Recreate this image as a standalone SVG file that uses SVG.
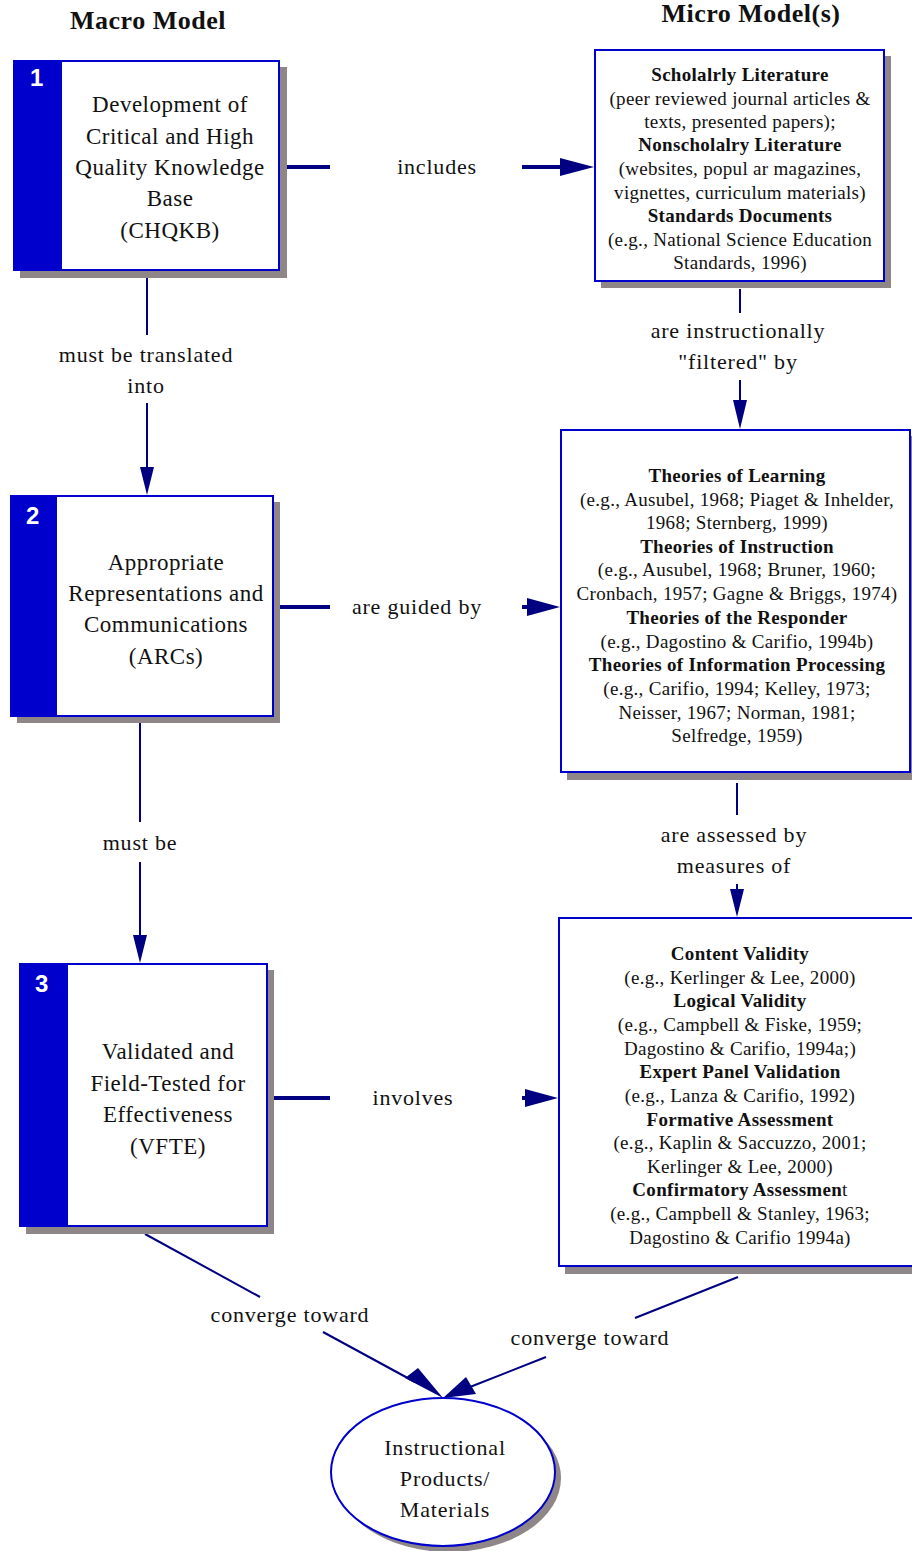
<svg xmlns="http://www.w3.org/2000/svg" width="912" height="1551" viewBox="0 0 912 1551">
<style>
.bg{fill:#ffffff}
.shadow{fill:#8f8787}
.box{fill:#ffffff;stroke:#0000cc;stroke-width:2}
.stripe{fill:#0000cc}
.num{font-family:"Liberation Sans",Arial,sans-serif;font-weight:bold;font-size:24px;fill:#ffffff}
.t{font-family:"Liberation Serif","Times New Roman",serif;fill:#111111;text-anchor:middle}
.big{font-size:23px;letter-spacing:0.5px}
.lbl{font-size:22px;letter-spacing:0.8px}
.sm{font-size:19px;letter-spacing:0.3px}
.b{font-weight:bold}
.title{font-family:"Liberation Serif","Times New Roman",serif;font-weight:bold;font-size:26px;letter-spacing:0.5px;fill:#111111;text-anchor:middle}
.thick{stroke:#000080;stroke-width:4;fill:none}
.thin{stroke:#000080;stroke-width:2;fill:none}
.head{fill:#000080}
</style>
<rect class="bg" x="0" y="0" width="912" height="1551"/>
<text class="title" x="148" y="29">Macro Model</text>
<text class="title" x="751" y="22">Micro Model(s)</text>

<g id="connectors">
  <!-- 1 -> A includes -->
  <line class="thick" x1="287" y1="167" x2="330" y2="167"/>
  <line class="thick" x1="522" y1="167" x2="562" y2="167"/>
  <polygon class="head" points="560,158 594,167 560,176"/>
  <text class="t lbl" x="437" y="174">includes</text>
  <!-- 2 -> B are guided by -->
  <line class="thick" x1="280" y1="607" x2="330" y2="607"/>
  <line class="thick" x1="522" y1="607" x2="530" y2="607"/>
  <polygon class="head" points="527,598 560,607 527,616"/>
  <text class="t lbl" x="417" y="614">are guided by</text>
  <!-- 3 -> C involves -->
  <line class="thick" x1="274" y1="1098" x2="330" y2="1098"/>
  <line class="thick" x1="522" y1="1098" x2="528" y2="1098"/>
  <polygon class="head" points="525,1089 558,1098 525,1107"/>
  <text class="t lbl" x="413" y="1105">involves</text>
  <!-- 1 -> 2 -->
  <line class="thin" x1="147" y1="278" x2="147" y2="335"/>
  <line class="thin" x1="147" y1="403" x2="147" y2="470"/>
  <polygon class="head" points="140,467 147,495 154,467"/>
  <text class="t lbl" x="146" y="362">must be translated</text>
  <text class="t lbl" x="146" y="393">into</text>
  <!-- 2 -> 3 -->
  <line class="thin" x1="140" y1="723" x2="140" y2="822"/>
  <line class="thin" x1="140" y1="862" x2="140" y2="938"/>
  <polygon class="head" points="133,935 140,963 147,935"/>
  <text class="t lbl" x="140" y="850">must be</text>
  <!-- A -> B -->
  <line class="thin" x1="740" y1="289" x2="740" y2="313"/>
  <line class="thin" x1="740" y1="380" x2="740" y2="403"/>
  <polygon class="head" points="733,400 740,429 747,400"/>
  <text class="t lbl" x="738" y="338">are instructionally</text>
  <text class="t lbl" x="738" y="369">"filtered" by</text>
  <!-- B -> C -->
  <line class="thin" x1="737" y1="783" x2="737" y2="815"/>
  <line class="thin" x1="737" y1="884" x2="737" y2="892"/>
  <polygon class="head" points="730,889 737,917 744,889"/>
  <text class="t lbl" x="734" y="842">are assessed by</text>
  <text class="t lbl" x="734" y="873">measures of</text>
  <!-- 3 -> ellipse -->
  <line class="thin" x1="145" y1="1234" x2="260" y2="1297"/>
  <line class="thin" x1="323" y1="1332" x2="415" y2="1382"/>
  <polygon class="head" points="405,1378 443,1398 418,1368"/>
  <text class="t lbl" x="290" y="1322">converge toward</text>
  <!-- C -> ellipse -->
  <line class="thin" x1="738" y1="1277" x2="635" y2="1318"/>
  <line class="thin" x1="546" y1="1357" x2="470" y2="1387"/>
  <polygon class="head" points="466,1377 443,1398 476,1394"/>
  <text class="t lbl" x="590" y="1345">converge toward</text>
</g>

<g id="node1">
  <rect class="shadow" x="20" y="67" width="267" height="211"/>
  <rect class="box" x="14" y="61" width="265" height="209"/>
  <rect class="stripe" x="13" y="60" width="49" height="211"/>
  <text class="num" x="30" y="86">1</text>
  <text class="t big" x="170" y="112">Development of</text>
  <text class="t big" x="170" y="144">Critical and High</text>
  <text class="t big" x="170" y="175">Quality Knowledge</text>
  <text class="t big" x="170" y="206">Base</text>
  <text class="t big" x="170" y="238">(CHQKB)</text>
</g>

<g id="node2">
  <rect class="shadow" x="17" y="502" width="263" height="221"/>
  <rect class="box" x="11" y="496" width="262" height="220"/>
  <rect class="stripe" x="10" y="495" width="47" height="222"/>
  <text class="num" x="26" y="524">2</text>
  <text class="t big" x="166" y="570">Appropriate</text>
  <text class="t big" x="166" y="601">Representations and</text>
  <text class="t big" x="166" y="632">Communications</text>
  <text class="t big" x="166" y="664">(ARCs)</text>
</g>

<g id="node3">
  <rect class="shadow" x="26" y="970" width="248" height="264"/>
  <rect class="box" x="20" y="964" width="247" height="262"/>
  <rect class="stripe" x="19" y="963" width="49" height="264"/>
  <text class="num" x="35" y="992">3</text>
  <text class="t big" x="168" y="1059">Validated and</text>
  <text class="t big" x="168" y="1091">Field-Tested for</text>
  <text class="t big" x="168" y="1122">Effectiveness</text>
  <text class="t big" x="168" y="1154">(VFTE)</text>
</g>

<g id="nodeA">
  <rect class="shadow" x="601" y="56" width="290" height="232"/>
  <rect class="box" x="595" y="50" width="289" height="231"/>
  <text class="t sm b" x="740" y="81">Scholalrly Literature</text>
  <text class="t sm" x="740" y="105">(peer reviewed journal articles &amp;</text>
  <text class="t sm" x="740" y="128">texts, presented papers);</text>
  <text class="t sm b" x="740" y="151">Nonscholalry Literature</text>
  <text class="t sm" x="740" y="175">(websites, popul ar magazines,</text>
  <text class="t sm" x="740" y="199">vignettes, curriculum materials)</text>
  <text class="t sm b" x="740" y="222">Standards Documents</text>
  <text class="t sm" x="740" y="246">(e.g., National Science Education</text>
  <text class="t sm" x="740" y="269">Standards, 1996)</text>
</g>

<g id="nodeB">
  <rect class="shadow" x="567" y="436" width="352" height="344"/>
  <rect class="box" x="561" y="430" width="349" height="342"/>
  <text class="t sm b" x="737" y="482">Theories of Learning</text>
  <text class="t sm" x="737" y="506">(e.g., Ausubel, 1968; Piaget &amp; Inhelder,</text>
  <text class="t sm" x="737" y="529">1968; Sternberg, 1999)</text>
  <text class="t sm b" x="737" y="553">Theories of Instruction</text>
  <text class="t sm" x="737" y="576">(e.g., Ausubel, 1968; Bruner, 1960;</text>
  <text class="t sm" x="737" y="600">Cronbach, 1957; Gagne &amp; Briggs, 1974)</text>
  <text class="t sm b" x="737" y="624">Theories of the Responder</text>
  <text class="t sm" x="737" y="648">(e.g., Dagostino &amp; Carifio, 1994b)</text>
  <text class="t sm b" x="737" y="671">Theories of Information Processing</text>
  <text class="t sm" x="737" y="695">(e.g., Carifio, 1994; Kelley, 1973;</text>
  <text class="t sm" x="737" y="719">Neisser, 1967; Norman, 1981;</text>
  <text class="t sm" x="737" y="742">Selfredge, 1959)</text>
</g>

<g id="nodeC">
  <rect class="shadow" x="565" y="924" width="360" height="350"/>
  <rect class="box" x="559" y="918" width="360" height="348"/>
  <text class="t sm b" x="740" y="960">Content Validity</text>
  <text class="t sm" x="740" y="984">(e.g., Kerlinger &amp; Lee, 2000)</text>
  <text class="t sm b" x="740" y="1007">Logical Validity</text>
  <text class="t sm" x="740" y="1031">(e.g., Campbell &amp; Fiske, 1959;</text>
  <text class="t sm" x="740" y="1055">Dagostino &amp; Carifio, 1994a;)</text>
  <text class="t sm b" x="740" y="1078">Expert Panel Validation</text>
  <text class="t sm" x="740" y="1102">(e.g., Lanza &amp; Carifio, 1992)</text>
  <text class="t sm b" x="740" y="1126">Formative Assessment</text>
  <text class="t sm" x="740" y="1149">(e.g., Kaplin &amp; Saccuzzo, 2001;</text>
  <text class="t sm" x="740" y="1173">Kerlinger &amp; Lee, 2000)</text>
  <text class="t sm" x="740" y="1196"><tspan class="b">Confirmatory Assessmen</tspan>t</text>
  <text class="t sm" x="740" y="1220">(e.g., Campbell &amp; Stanley, 1963;</text>
  <text class="t sm" x="740" y="1244">Dagostino &amp; Carifio 1994a)</text>
</g>

<g id="nodeEllipse">
  <ellipse class="shadow" cx="449" cy="1478" rx="112" ry="74"/>
  <ellipse class="box" cx="443" cy="1472" rx="112" ry="74"/>
  <text class="t lbl" x="445" y="1455">Instructional</text>
  <text class="t lbl" x="445" y="1486">Products/</text>
  <text class="t lbl" x="445" y="1517">Materials</text>
</g>
</svg>
